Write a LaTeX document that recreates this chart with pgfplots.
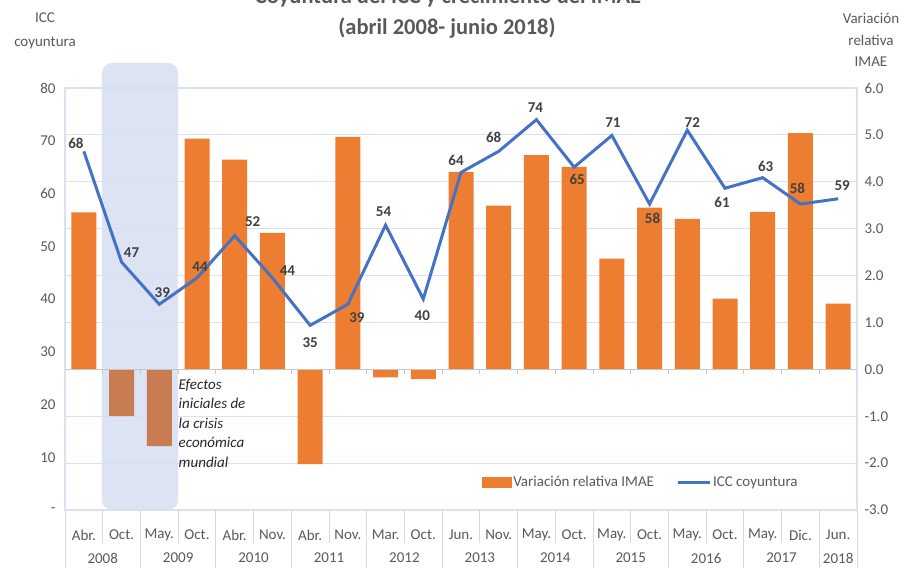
\documentclass[border=0pt]{standalone}
\usepackage{pgfplots}
\pgfplotsset{compat=1.18}
\usepackage{pgfplotstable}
\usepackage{fontspec}
\setmainfont{Carlito}

\definecolor{imae}{HTML}{ED7D31}
\definecolor{imaedark}{HTML}{C97B51}
\definecolor{icc}{HTML}{4472C4}
\definecolor{gridc}{HTML}{D9E1F2}
\definecolor{shadec}{HTML}{D6DFF1}
\definecolor{txt}{HTML}{595959}
\definecolor{lab}{HTML}{404040}
\definecolor{sepc}{HTML}{D9D9D9}

% variacion relativa IMAE (eje derecho)
\pgfplotstableread{
x v
0 3.35
3 4.92
4 4.47
5 2.91
6 -2.02
7 4.96
8 -0.17
9 -0.21
10 4.21
11 3.49
12 4.57
13 4.32
14 2.36
15 3.45
16 3.21
17 1.51
18 3.36
19 5.04
20 1.40
}\imaetab
% barras dentro del periodo de crisis
\pgfplotstableread{
x v
1 -1.00
2 -1.64
}\crisistab

% ICC coyuntura (eje izquierdo), con desplazamiento de etiquetas
\pgfplotstableread{
x y lab dx dy
0 68 68 -8 8
1 47 47 10 9
2 39 39 3 12
3 44 44 3 11
4 52 52 18 14
5 44 44 15 7
6 35 35 0 -17
7 39 39 9 -13
8 54 54 -2 13
9 40 40 -1 -17
10 64 64 -5 12
11 68 68 -5 14
12 74 74 -1 12
13 65 65 3 -12
14 71 71 1 13
15 58 58 3 -14
16 72 72 5 8
17 61 61 -3 -14
18 63 63 3 11
19 58 58 -3 16
20 59 59 4 13
}\icctab

\newcommand{\fs}{\fontsize{15}{18}\selectfont}

\begin{document}
\begin{tikzpicture}
\useasboundingbox (0pt,0pt) rectangle (905pt,568pt);

% titulo
\node[font=\bfseries\fontsize{22.5}{26}\selectfont, text=txt] at (448pt,571pt) {Coyuntura del ICC y crecimiento del IMAE};
\node[font=\bfseries\fontsize{22.5}{26}\selectfont, text=txt] at (447pt,540pt) {(abril 2008- junio 2018)};

% titulos de ejes
\node[font=\fs, text=txt] at (45pt,550pt) {ICC};
\node[font=\fs, text=txt] at (45pt,525pt) {coyuntura};
\node[font=\fs, text=txt] at (871pt,550pt) {Variación};
\node[font=\fs, text=txt] at (871pt,528pt) {relativa};
\node[font=\fs, text=txt] at (871pt,506pt) {IMAE};

\begin{axis}[
    at={(65pt,58pt)}, anchor=south west,
    scale only axis, width=792pt, height=422pt,
    xmin=-0.5, xmax=20.5, ymin=-3, ymax=6,
    ytick={-3,-2,...,6},
    yticklabel pos=right,
    /pgf/number format/.cd, fixed, fixed zerofill, precision=1, assume math mode=true,
    /pgfplots/.cd,
    yticklabel style={font=\fs, text=txt, xshift=4pt},
    xtick={0,...,20},
    xticklabels={Abr.,Oct.,May.,Oct.,Abr.,Nov.,Abr.,Nov.,Mar.,Oct.,Jun.,Nov.,May.,Oct.,May.,Oct.,May.,Oct.,May.,Dic.,Jun.},
    xticklabel style={font=\fs, text=txt, anchor=center, yshift=-25pt},
    major tick length=0pt,
    ymajorgrids, grid style={gridc, line width=1.2pt},
    axis line style={gridc, line width=1.2pt},
    clip=false,
]
% franja de la crisis
\fill[shadec, opacity=0.85, rounded corners=10pt] (axis cs:0.48,-3) rectangle ([yshift=25pt]axis cs:2.5,6);

\addplot[ybar, bar width=25pt, bar shift=0pt, fill=imae, draw=none] table[x=x, y=v] {\imaetab};
\addplot[ybar, bar width=25pt, bar shift=0pt, fill=imaedark, draw=none] table[x=x, y=v] {\crisistab};

% linea cero con marcas
\draw[sepc!80!gray, line width=1.2pt] (axis cs:-0.5,0) -- (axis cs:20.5,0);
\pgfplotsinvokeforeach{0.5,1.5,...,19.5}{
  \draw[sepc!80!gray, line width=1pt] (axis cs:#1,0) -- ++(0pt,-5pt);
}

% separadores del eje x
\pgfplotsinvokeforeach{-0.5,1.5,3.5,5.5,7.5,9.5,11.5,13.5,15.5,17.5,19.5,20.5}{
  \draw[sepc, line width=1pt] (axis cs:#1,-3) -- ++(0pt,-58pt);
}
\pgfplotsinvokeforeach{0.5,2.5,4.5,6.5,8.5,10.5,12.5,14.5,16.5,18.5}{
  \draw[sepc, line width=1pt] (axis cs:#1,-3) -- ++(0pt,-33pt);
}

% anos
\node[font=\fs, text=txt] at ([yshift=-48pt]axis cs:0.5,-3) {2008};
\node[font=\fs, text=txt] at ([yshift=-48pt]axis cs:2.5,-3) {2009};
\node[font=\fs, text=txt] at ([yshift=-48pt]axis cs:4.5,-3) {2010};
\node[font=\fs, text=txt] at ([yshift=-48pt]axis cs:6.5,-3) {2011};
\node[font=\fs, text=txt] at ([yshift=-48pt]axis cs:8.5,-3) {2012};
\node[font=\fs, text=txt] at ([yshift=-48pt]axis cs:10.5,-3) {2013};
\node[font=\fs, text=txt] at ([yshift=-48pt]axis cs:12.5,-3) {2014};
\node[font=\fs, text=txt] at ([yshift=-48pt]axis cs:14.5,-3) {2015};
\node[font=\fs, text=txt] at ([yshift=-48pt]axis cs:16.5,-3) {2016};
\node[font=\fs, text=txt] at ([yshift=-48pt]axis cs:18.5,-3) {2017};
\node[font=\fs, text=txt] at ([yshift=-48pt]axis cs:20,-3) {2018};

% nota
\node[anchor=north west, inner sep=0pt, align=left, text=black!85,
      font=\itshape\fontsize{15}{19.5}\selectfont] at (axis cs:2.51,-0.2)
  {Efectos\\iniciales de\\la crisis\\económica\\mundial};
\end{axis}

\begin{axis}[
    at={(65pt,58pt)}, anchor=south west,
    scale only axis, width=792pt, height=422pt,
    xmin=-0.5, xmax=20.5, ymin=0, ymax=80,
    ytick={0,10,...,80},
    yticklabels={-,10,20,30,40,50,60,70,80},
    yticklabel style={font=\fs, text=txt, xshift=-6pt},
    axis y line*=left, axis x line=none,
    y axis line style={draw=none},
    major tick length=0pt,
    clip=false,
    legend style={at={(0.727,0.066)}, anchor=center, draw=none, fill=none,
      font=\fs, text=txt, legend columns=2,
      /tikz/every even column/.append style={column sep=20pt}},
]
\addlegendimage{legend image code/.code={\fill[imae] (0pt,-5pt) rectangle (29pt,5pt);}}
\addlegendentry{Variación relativa IMAE}

\addplot[icc, line width=3pt, mark=none,
    nodes near coords, point meta=explicit symbolic,
    visualization depends on={\thisrow{dx}\as\dx},
    visualization depends on={\thisrow{dy}\as\dy},
    every node near coord/.append style={anchor=center, xshift=\dx pt, yshift=\dy pt,
      font=\bfseries\fs, text=lab},
    legend image code/.code={\draw[icc, line width=3pt] (0pt,0pt) -- (32pt,0pt);}]
  table[x=x, y=y, meta=lab] {\icctab};
\addlegendentry{ICC coyuntura}
\end{axis}
\end{tikzpicture}
\end{document}
